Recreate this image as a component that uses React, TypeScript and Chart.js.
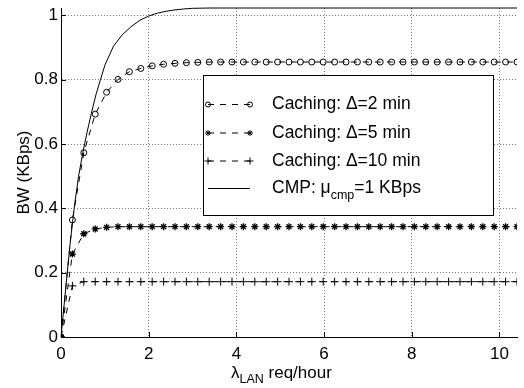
import { useEffect, useRef } from "react";
import { Chart, registerables } from "chart.js";

Chart.register(...registerables);

const FONT = "'Liberation Sans', Arial, Helvetica, sans-serif";

// x positions (req/hour) of the caching samples
const xValues = [
  0, 0.26, 0.52, 0.78, 1.04, 1.3, 1.56, 1.82, 2.08, 2.34,
  2.6, 2.86, 3.12, 3.38, 3.64, 3.9, 4.16, 4.42, 4.68, 4.94,
  5.2, 5.46, 5.72, 5.98, 6.24, 6.5, 6.76, 7.02, 7.28, 7.54,
  7.8, 8.06, 8.32, 8.58, 8.84, 9.1, 9.36, 9.62, 9.88, 10.14, 10.4,
];

// Caching Δ=2 min (circles)
const caching2 = [
  0, 0.364, 0.573, 0.693, 0.761, 0.801, 0.825, 0.835, 0.843, 0.848,
  0.851, 0.853, 0.854, 0.855, 0.855, 0.855, 0.855, 0.855, 0.855, 0.855,
  0.855, 0.855, 0.855, 0.855, 0.855, 0.855, 0.855, 0.855, 0.855, 0.855,
  0.855, 0.855, 0.855, 0.855, 0.855, 0.855, 0.855, 0.855, 0.855, 0.855, 0.855,
];

// Caching Δ=5 min (stars)
const caching5 = [
  0, 0.258, 0.321, 0.336, 0.341, 0.343, 0.343, 0.343, 0.343, 0.343,
  0.343, 0.343, 0.343, 0.343, 0.343, 0.343, 0.343, 0.343, 0.343, 0.343,
  0.343, 0.343, 0.343, 0.343, 0.343, 0.343, 0.343, 0.343, 0.343, 0.343,
  0.343, 0.343, 0.343, 0.343, 0.343, 0.343, 0.343, 0.343, 0.343, 0.343, 0.343,
];

// Caching Δ=10 min (plus)
const caching10 = [
  0, 0.159, 0.172, 0.172, 0.172, 0.172, 0.172, 0.172, 0.172, 0.172,
  0.172, 0.172, 0.172, 0.172, 0.172, 0.172, 0.172, 0.172, 0.172, 0.172,
  0.172, 0.172, 0.172, 0.172, 0.172, 0.172, 0.172, 0.172, 0.172, 0.172,
  0.172, 0.172, 0.172, 0.172, 0.172, 0.172, 0.172, 0.172, 0.172, 0.172, 0.172,
];

// CMP: mu_cmp = 1 KBps (solid line, its own x samples)
const cmpX = [
  0, 0.1, 0.2, 0.3, 0.4, 0.5, 0.6, 0.7, 0.8, 0.9,
  1.0, 1.2, 1.4, 1.6, 1.8, 2.0, 2.2, 2.4, 2.6, 2.8,
  3.0, 3.4, 10.4,
];
const cmp = [
  0, 0.14, 0.28, 0.4, 0.5, 0.575, 0.64, 0.7, 0.755, 0.8,
  0.845, 0.905, 0.94, 0.965, 0.985, 0.998, 1.007, 1.013, 1.017, 1.02,
  1.022, 1.023, 1.023,
];

const xTicks = [0, 2, 4, 6, 8, 10];
const yTicks = [0, 0.2, 0.4, 0.6, 0.8, 1];
const legendLabels = ["Caching: \u0394=2 min", "Caching: \u0394=5 min", "Caching: \u0394=10 min"];

const toPts = (xs: number[], ys: number[]) => xs.map((x, i) => ({ x, y: ys[i] }));

function drawMarker(ctx: CanvasRenderingContext2D, style: string, x: number, y: number, r: number) {
  ctx.beginPath();
  if (style === "circle") {
    ctx.arc(x, y, r, 0, Math.PI * 2);
  } else if (style === "star") {
    ctx.moveTo(x - r, y); ctx.lineTo(x + r, y);
    ctx.moveTo(x, y - r); ctx.lineTo(x, y + r);
    const d = r * 0.7071;
    ctx.moveTo(x - d, y - d); ctx.lineTo(x + d, y + d);
    ctx.moveTo(x - d, y + d); ctx.lineTo(x + d, y - d);
  } else if (style === "cross") {
    ctx.moveTo(x - r, y); ctx.lineTo(x + r, y);
    ctx.moveTo(x, y - r); ctx.lineTo(x, y + r);
  }
  ctx.stroke();
}

const overlay = {
  id: "overlay",
  afterDatasetsDraw(chart: any) {
    const { ctx, chartArea, scales } = chart;
    ctx.save();
    ctx.strokeStyle = "#000";
    ctx.lineWidth = 1;
    ctx.setLineDash([]);
    // inward ticks
    xTicks.forEach((v) => {
      const px = Math.round(scales.x.getPixelForValue(v)) + 0.5;
      ctx.beginPath();
      ctx.moveTo(px, chartArea.bottom);
      ctx.lineTo(px, chartArea.bottom - 5);
      ctx.stroke();
    });
    yTicks.forEach((v) => {
      const py = Math.round(scales.y.getPixelForValue(v)) + 0.5;
      ctx.beginPath();
      ctx.moveTo(chartArea.left, py);
      ctx.lineTo(chartArea.left + 5, py);
      ctx.stroke();
    });
    ctx.restore();
  },
  afterDraw(chart: any) {
    const { ctx } = chart;
    ctx.save();
    // legend box
    const bx = 203.5, by = 75.5, bw = 290, bh = 140;
    ctx.fillStyle = "#fff";
    ctx.fillRect(bx, by, bw, bh);
    ctx.strokeStyle = "#000";
    ctx.lineWidth = 1;
    ctx.strokeRect(bx, by, bw, bh);

    const rows = [104.5, 133, 161, 188.5];
    const styles = ["circle", "star", "cross"];
    const radii = [2.5, 3, 3.5];
    const x1 = 208, x2 = 250, tx = 272;
    const big = `17.5px ${FONT}`;
    ctx.font = big;
    ctx.textBaseline = "middle";
    ctx.textAlign = "left";
    ctx.fillStyle = "#000";
    for (let i = 0; i < 3; i++) {
      const y = rows[i];
      ctx.setLineDash([6, 6]);
      ctx.beginPath();
      ctx.moveTo(x1, y); ctx.lineTo(x2, y);
      ctx.stroke();
      ctx.setLineDash([]);
      drawMarker(ctx, styles[i], x1, y, radii[i]);
      drawMarker(ctx, styles[i], x2, y, radii[i]);
      ctx.fillText(legendLabels[i], tx, y);
    }
    // CMP row
    const y4 = rows[3];
    ctx.setLineDash([]);
    ctx.beginPath();
    ctx.moveTo(x1, y4); ctx.lineTo(x2, y4);
    ctx.stroke();
    let cx = tx;
    ctx.font = big;
    ctx.fillText("CMP: \u03bc", cx, y4);
    cx += ctx.measureText("CMP: \u03bc").width;
    ctx.font = `12.5px ${FONT}`;
    ctx.fillText("cmp", cx, y4 + 7);
    cx += ctx.measureText("cmp").width;
    ctx.font = big;
    ctx.fillText("=1 KBps", cx, y4);

    // x axis title with subscript
    ctx.textBaseline = "alphabetic";
    const tbig = `17px ${FONT}`;
    const tsmall = `12.5px ${FONT}`;
    let sx = 231;
    const base = 378;
    ctx.font = tbig;
    ctx.fillText("\u03bb", sx, base);
    sx += ctx.measureText("\u03bb").width;
    ctx.font = tsmall;
    ctx.fillText("LAN", sx, base + 5);
    sx += ctx.measureText("LAN").width;
    ctx.font = tbig;
    ctx.fillText(" req/hour", sx, base);
    ctx.restore();
  },
};

export default function App() {
  const ref = useRef<HTMLCanvasElement>(null);
  useEffect(() => {
    document.body.style.margin = "0";
    const canvas = ref.current!;
    const lineBase = {
      borderColor: "#000",
      borderWidth: 1,
      pointBorderColor: "#000",
      pointBackgroundColor: "rgba(0,0,0,0)",
      pointBorderWidth: 1,
      fill: false,
      tension: 0,
    };
    const chart = new Chart(canvas, {
      type: "line",
      data: {
        datasets: [
          { ...lineBase, label: legendLabels[0], data: toPts(xValues, caching2), borderDash: [6, 6], pointStyle: "circle", pointRadius: 3 },
          { ...lineBase, label: legendLabels[1], data: toPts(xValues, caching5), borderDash: [6, 6], pointStyle: "star", pointRadius: 3.5, pointBorderWidth: 1.3 },
          { ...lineBase, label: legendLabels[2], data: toPts(xValues, caching10), borderDash: [6, 6], pointStyle: "cross", pointRadius: 4 },
          { ...lineBase, label: "CMP", data: toPts(cmpX, cmp), pointRadius: 0, clip: false as any },
        ],
      },
      options: {
        animation: false,
        responsive: false,
        devicePixelRatio: 1,
        layout: { padding: { top: 8, right: 7, left: 0, bottom: 0 } },
        plugins: { legend: { display: false }, tooltip: { enabled: false } },
        scales: {
          x: {
            type: "linear",
            min: 0,
            max: 10.4,
            afterBuildTicks: (s: any) => { s.ticks = xTicks.map((v) => ({ value: v })); },
            afterFit: (s: any) => { s.height = 51; s.paddingLeft = 0; s.paddingRight = 0; },
            ticks: { color: "#000", font: { size: 17, family: FONT }, padding: 7, maxRotation: 0, callback: (v: any) => String(v) },
            grid: { color: "#777", lineWidth: 1, drawTicks: false },
            border: { display: true, color: "#000", width: 1, dash: [1, 2] },
          },
          y: {
            type: "linear",
            min: 0,
            max: 1.023,
            afterBuildTicks: (s: any) => { s.ticks = yTicks.map((v) => ({ value: v })); },
            afterFit: (s: any) => { s.width = 61; s.paddingTop = 0; s.paddingBottom = 0; },
            ticks: { color: "#000", font: { size: 17, family: FONT }, padding: 3, callback: (v: any) => String(v) },
            grid: { color: "#777", lineWidth: 1, drawTicks: false },
            border: { display: true, color: "#000", width: 1, dash: [1, 2] },
            title: { display: true, text: "BW (KBps)", color: "#000", font: { size: 17, family: FONT }, padding: { top: 14, bottom: 0 } },
          },
        },
      },
      plugins: [overlay],
    });
    return () => chart.destroy();
  }, []);
  return <canvas ref={ref} width={524} height={388} style={{ display: "block", width: 524, height: 388 }} />;
}
